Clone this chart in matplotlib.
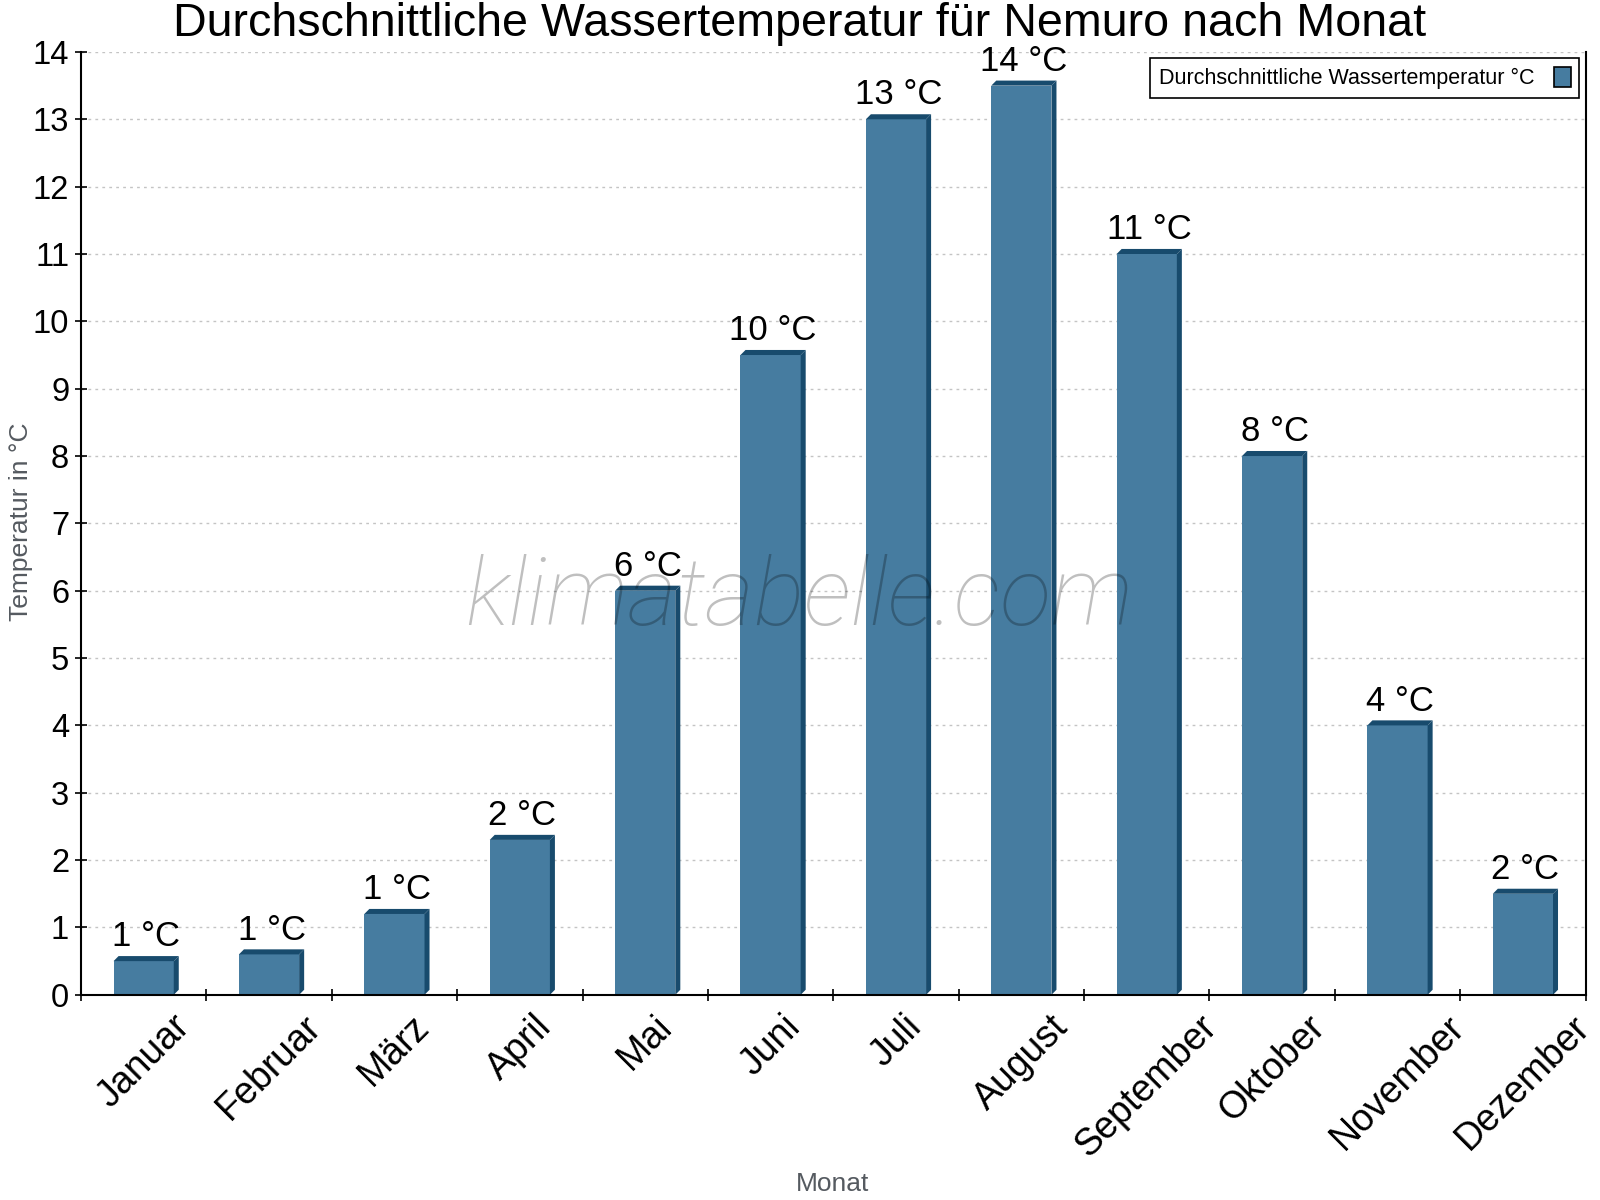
import numpy as np
import matplotlib.pyplot as plt
from matplotlib.patches import Polygon, Patch

# ------------------------------------------------------------
# data
# ------------------------------------------------------------
months = ['Januar', 'Februar', 'März', 'April', 'Mai', 'Juni', 'Juli',
          'August', 'September', 'Oktober', 'November', 'Dezember']
water_temp = [0.5, 0.6, 1.2, 2.3, 6.0, 9.5, 13.0, 13.5, 11.0, 8.0, 4.0, 1.5]
temp_labels = ['1 °C', '1 °C', '1 °C', '2 °C', '6 °C', '10 °C', '13 °C',
               '14 °C', '11 °C', '8 °C', '4 °C', '2 °C']
y_ticks = list(range(0, 15))

front_col = '#467ca0'
side_col = '#184b6d'

plt.rcParams['font.family'] = ['Liberation Sans', 'DejaVu Sans']

fig = plt.figure(figsize=(16, 12), dpi=100)
ax = fig.add_axes([0.0506, 0.171, 0.9404, 0.7857])

x = np.arange(len(months))
bar_w = 0.48
dx, dy = 0.04, 0.075   # fake 3d depth

ax.bar(x, water_temp, width=bar_w, color=front_col, zorder=3)
for xi, h in zip(x, water_temp):
    x0, x1 = xi - bar_w / 2, xi + bar_w / 2
    top = Polygon([(x0, h), (x0 + dx, h + dy), (x1 + dx, h + dy), (x1, h)],
                  closed=True, color=side_col, lw=0, zorder=3)
    side = Polygon([(x1, 0), (x1, h), (x1 + dx, h + dy), (x1 + dx, dy)],
                   closed=True, color=side_col, lw=0, zorder=3)
    ax.add_patch(top)
    ax.add_patch(side)

for xi, h, lab in zip(x, water_temp, temp_labels):
    ax.annotate(lab, (xi + dx / 2, h + dy), xytext=(0, 2),
                textcoords='offset points', ha='center', va='bottom',
                fontsize=25, zorder=5)

# axes
ax.set_xlim(-0.5, len(months) - 0.5)
ax.set_ylim(0, 14)
ax.set_yticks(y_ticks)
ax.set_xticks(x)
ax.set_xticklabels(months, rotation=45, ha='center', va='top')
ax.set_xticks(np.arange(len(months) + 1) - 0.5, minor=True)
ax.tick_params(axis='x', which='major', length=0, labelsize=27, pad=10)
ax.tick_params(axis='x', which='minor', length=9, width=1.2, direction='inout')
ax.tick_params(axis='y', length=9, width=1.2, direction='inout', labelsize=23.5, pad=4)

ax.spines['top'].set_visible(False)
for s in ['left', 'right', 'bottom']:
    ax.spines[s].set_linewidth(1.5)
    ax.spines[s].set_zorder(6)

ax.grid(axis='y', color='#c4c4c4', linestyle=(0, (2, 3)), lw=1, zorder=0)
ax.set_axisbelow(True)

fig.text(21 / 1600, 1 - 522 / 1200, 'Temperatur in °C', fontsize=19,
         color='#555a60', rotation=90, ha='center', va='center')
fig.text(833 / 1600, 1 - 1184 / 1200, 'Monat', fontsize=19, color='#555a60',
         ha='center', va='center')

fig.text(0.5, 1 - 36 / 1200, 'Durchschnittliche Wassertemperatur für Nemuro nach Monat',
         fontsize=33.6, ha='center', va='baseline')

# watermark
ax.text(0.477, 0.392, 'klimatabelle.com', transform=ax.transAxes,
        fontsize=68, family=['Roboto', 'DejaVu Sans'], fontweight='light',
        style='italic', color='black', alpha=0.25, ha='center', va='baseline',
        zorder=7)

handle = Patch(facecolor=front_col, edgecolor='black', lw=1.2)
leg = ax.legend([handle], ['Durchschnittliche Wassertemperatur °C'],
                loc='upper right', bbox_to_anchor=(1.003, 1.005),
                markerfirst=False, fontsize=15.5, fancybox=False,
                edgecolor='black', framealpha=1, handlelength=0.8,
                handleheight=1.1, borderpad=0.4, handletextpad=0.9)
leg.get_frame().set_linewidth(1.2)
leg.set_zorder(8)

fig.savefig('out.png', dpi=100)
